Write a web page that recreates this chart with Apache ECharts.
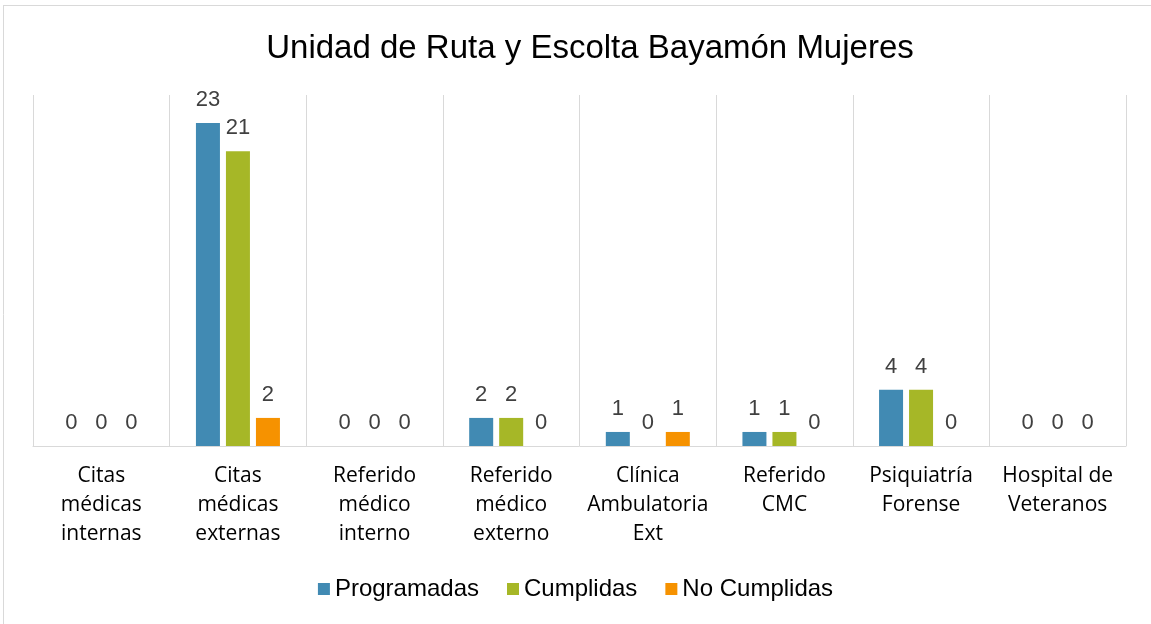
<!DOCTYPE html>
<html>
<head>
<meta charset="utf-8">
<script src="https://cdn.jsdelivr.net/npm/echarts@6/dist/echarts.min.js"></script>
<style>
  html, body { margin: 0; padding: 0; background: #fff; }
  #chart { width: 1151px; height: 624px; }
</style>
</head>
<body>
<div id="chart"></div>
<script>
// categorias (con saltos de linea como en el original)
var categorias = [
  'Citas\nmédicas\ninternas',
  'Citas\nmédicas\nexternas',
  'Referido\nmédico\ninterno',
  'Referido\nmédico\nexterno',
  'Clínica\nAmbulatoria\nExt',
  'Referido\nCMC',
  'Psiquiatría\nForense',
  'Hospital de\nVeteranos'
];
var programadas = [0, 23, 0, 2, 1, 1, 4, 0];
var cumplidas = [0, 21, 0, 2, 0, 1, 4, 0];
var noCumplidas = [0, 2, 0, 0, 1, 0, 0, 0];

var myChart = echarts.init(document.getElementById('chart'));

var etiqueta = {
  show: true,
  position: 'top',
  distance: 12,
  color: '#404040',
  fontFamily: 'Liberation Sans, Arial, sans-serif',
  fontSize: 22
};

myChart.setOption({
  animation: false,
  color: ['#418AB3', '#A6B727', '#F69200'],
  title: {
    text: 'Unidad de Ruta y Escolta Bayamón Mujeres',
    left: 585,
    textAlign: 'center',
    top: 27,
    textStyle: {
      color: '#000',
      fontFamily: 'Liberation Sans, Arial, sans-serif',
      fontSize: 33,
      fontWeight: 'normal'
    }
  },
  legend: {
    bottom: 18,
    left: 'center',
    itemWidth: 12,
    itemHeight: 12,
    itemGap: 28,
    icon: 'rect',
    textStyle: {
      color: '#000',
      fontFamily: 'Liberation Sans, Arial, sans-serif',
      fontSize: 24
    }
  },
  // bordes del cuadro
  graphic: [
    { type: 'line', shape: { x1: 3.5, y1: 5, x2: 3.5, y2: 624 }, style: { stroke: '#d9d9d9', lineWidth: 1 } },
    { type: 'line', shape: { x1: 3, y1: 5.5, x2: 1151, y2: 5.5 }, style: { stroke: '#d9d9d9', lineWidth: 1 } }
  ],
  grid: {
    left: 33,
    right: 25,
    top: 95,
    bottom: 178
  },
  xAxis: {
    type: 'category',
    data: categorias,
    axisLine: { lineStyle: { color: '#d9d9d9', width: 1 } },
    axisTick: { show: false },
    splitLine: { show: true, lineStyle: { color: '#d9d9d9', width: 1 } },
    axisLabel: {
      color: '#000',
      fontFamily: 'Open Sans, Noto Sans, sans-serif',
      fontSize: 21,
      lineHeight: 29,
      margin: 16,
      interval: 0
    }
  },
  yAxis: {
    type: 'value',
    min: 0,
    max: 25,
    show: false,
    splitLine: { show: false }
  },
  series: [
    { name: 'Programadas', type: 'bar', data: programadas, barWidth: 24, barGap: '25%', label: etiqueta },
    { name: 'Cumplidas', type: 'bar', data: cumplidas, barWidth: 24, barGap: '25%', label: etiqueta },
    { name: 'No Cumplidas', type: 'bar', data: noCumplidas, barWidth: 24, barGap: '25%', label: etiqueta }
  ]
});
</script>
</body>
</html>
